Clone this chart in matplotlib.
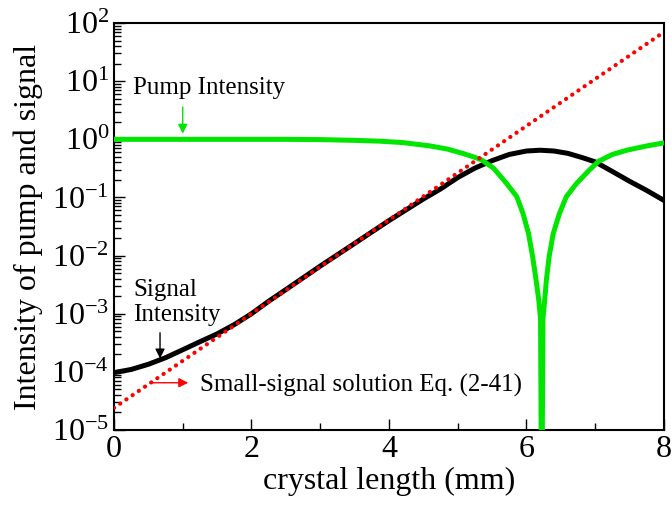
import numpy as np
import matplotlib
matplotlib.use('Agg')
import matplotlib.pyplot as plt
from matplotlib.ticker import LogLocator, MultipleLocator

# ── values ──
# signal intensity (black)
sig_x = [0, 0.25, 0.5, 0.75, 1.0, 1.25, 1.5, 1.75, 2.0, 2.25, 2.5, 3.0, 3.5,
         4.0, 4.5, 4.75, 5.0, 5.25, 5.5, 5.75, 6.0, 6.2, 6.4, 6.6, 6.8, 7.0,
         7.25, 7.5, 7.75, 8.0]
sig_y = [9.7e-5, 1.1e-4, 1.35e-4, 1.75e-4, 2.4e-4, 3.3e-4, 4.5e-4, 6.5e-4,
         1.0e-3, 1.64e-3, 2.6e-3, 6.6e-3, 1.62e-2, 4.0e-2, 9.4e-2, 0.14,
         0.22, 0.32, 0.43, 0.55, 0.63, 0.65, 0.63, 0.575, 0.49, 0.41, 0.28,
         0.19, 0.132, 0.089]

# pump intensity (green)
pump_x = [0, 1.0, 2.0, 2.5, 3.0, 3.5, 3.87, 4.2, 4.6, 4.85, 5.08, 5.25, 5.35,
          5.52, 5.71, 5.86, 5.95, 6.03, 6.09, 6.14, 6.18, 6.205, 6.222, 6.24,
          6.265, 6.29, 6.33, 6.39, 6.48, 6.58, 6.73, 6.92, 7.05, 7.25, 7.46,
          7.75, 8.0]
pump_y = [1.0, 1.0, 1.0, 1.0, 0.99, 0.96, 0.93, 0.88, 0.77, 0.68, 0.57, 0.49,
          0.44, 0.32, 0.175, 0.103, 0.053, 0.024, 9.6e-3, 3.8e-3, 1.7e-3,
          8e-4, 1e-7, 8e-4, 1.7e-3, 3.8e-3, 9.6e-3, 0.024, 0.053, 0.103,
          0.175, 0.30, 0.42, 0.55, 0.65, 0.77, 0.87]

# small-signal solution (red dots)
ss_x = [0, 2, 4, 6, 8]
ss_y = [2.4e-5, 1.0e-3, 4.1e-2, 1.70, 70.0]

plt.rcParams['font.family'] = ['Liberation Serif', 'DejaVu Serif']
plt.rcParams['mathtext.fontset'] = 'custom'
plt.rcParams['mathtext.rm'] = 'Liberation Serif'
plt.rcParams['mathtext.it'] = 'Liberation Serif:italic'
plt.rcParams['axes.unicode_minus'] = False

fig = plt.figure(figsize=(6.72, 5.13), dpi=100)
ax = fig.add_axes([0.1696, 0.1618, 0.8184, 0.7932])

green = '#00e600'
ax.plot(sig_x, sig_y, color='black', lw=3.6, solid_joinstyle='round', zorder=2)
ax.plot(pump_x, pump_y, color=green, lw=3.6, solid_joinstyle='round', zorder=3)
ax.plot(ss_x, ss_y, color='red', lw=3.0, linestyle=(0, (0.05, 1.75)),
        dash_capstyle='round', zorder=4)

ax.set_yscale('log')
ax.set_xlim(0, 8)
ax.set_ylim(1e-5, 1e2)
ax.xaxis.set_major_locator(MultipleLocator(2))
ax.xaxis.set_minor_locator(MultipleLocator(1))
ax.yaxis.set_major_locator(LogLocator(base=10, numticks=20))
ax.yaxis.set_minor_locator(LogLocator(base=10, subs=np.arange(2, 10), numticks=20))
ax.tick_params(which='both', direction='in', top=False, right=False,
               labelsize=23, width=1.0)
ax.tick_params(which='major', length=8)
ax.tick_params(which='minor', length=5)
for s in ax.spines.values():
    s.set_linewidth(1.5)

ax.set_xlabel('crystal length (mm)', fontsize=23, labelpad=2)
ax.set_ylabel('Intensity of pump and signal', fontsize=23, labelpad=6)

# annotations
ax.text(0.28, 7.6, 'Pump Intensity', fontsize=18, va='center', ha='left')
ax.annotate('', xy=(1.0, 1.25), xytext=(1.0, 3.6),
            arrowprops=dict(arrowstyle='-|>', color=green, lw=1.0,
                            mutation_scale=14, shrinkA=0, shrinkB=0))
ax.text(0.28, 1.55e-3, 'Signal\nIntensity', fontsize=18, va='center', ha='left',
        linespacing=1.2)
ax.annotate('', xy=(0.67, 1.7e-4), xytext=(0.67, 4.7e-4),
            arrowprops=dict(arrowstyle='-|>', color='black', lw=1.0,
                            mutation_scale=14, shrinkA=0, shrinkB=0))
ax.text(1.25, 5.9e-5, 'Small-signal solution Eq. (2-41)', fontsize=18,
        va='center', ha='left')
ax.annotate('', xy=(1.08, 6.5e-5), xytext=(0.55, 6.5e-5),
            arrowprops=dict(arrowstyle='-|>', color='red', lw=1.0,
                            mutation_scale=14, shrinkA=0, shrinkB=0))

fig.savefig('out.png', dpi=100, facecolor='white')
